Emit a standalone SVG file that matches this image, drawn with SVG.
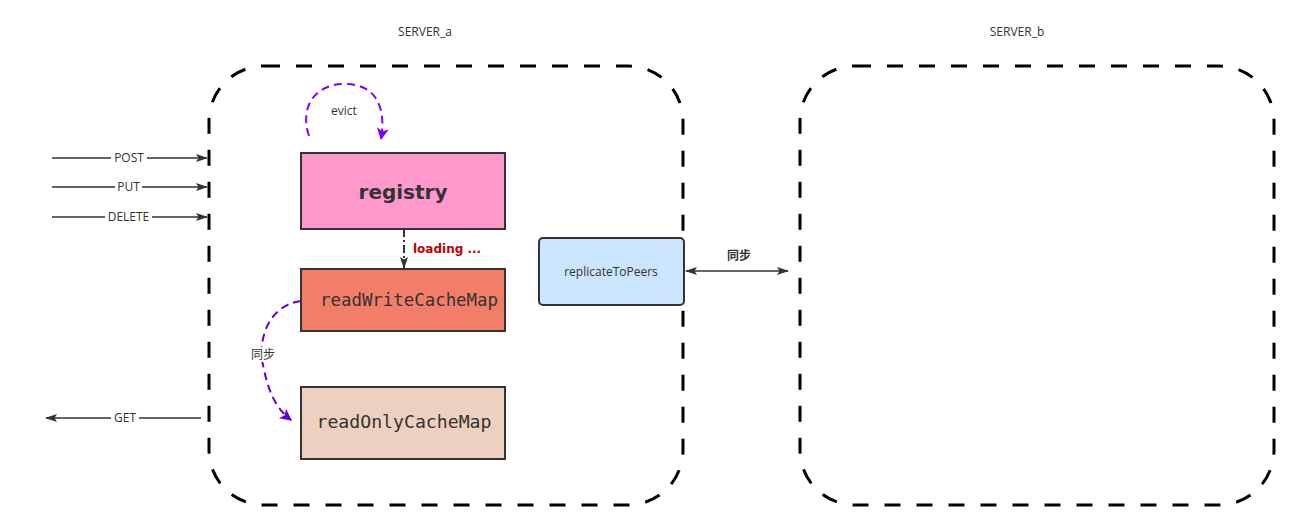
<svg xmlns="http://www.w3.org/2000/svg" width="1307" height="528" viewBox="0 0 1307 528">
<style>
.lbl{font-family:"Open Sans","Noto Sans","Noto Sans CJK SC",sans-serif;font-size:12px;fill:#333;text-anchor:middle}
.bg{fill:#fff}
.srv{fill:none;stroke:#000;stroke-width:3;stroke-dasharray:16 16}
.box{stroke:#333;stroke-width:2}
.mono{font-family:"DejaVu Sans Mono","Liberation Mono",monospace;font-size:17px;fill:#333;text-anchor:middle}
.ln{stroke:#333;stroke-width:1.5;fill:none}
</style>
<defs>
<marker id="ah" viewBox="0 0 12 8" refX="11" refY="4" markerWidth="12" markerHeight="8" markerUnits="userSpaceOnUse" orient="auto-start-reverse">
<path d="M0,0 L12,4 L0,8 L2.5,4 Z" fill="#333"/>
</marker>
<marker id="ahp" viewBox="0 0 10 10" refX="9" refY="5" markerWidth="12" markerHeight="12" markerUnits="userSpaceOnUse" orient="auto">
<path d="M0,0 L10,5 L0,10 L2.5,5 Z" fill="#7F00FF"/>
</marker>
<marker id="ahv" viewBox="0 0 10 10" refX="9" refY="5" markerWidth="12" markerHeight="12" markerUnits="userSpaceOnUse" orient="auto">
<path d="M0,0 L10,5 L0,10 L2.5,5 Z" fill="#6600CC"/>
</marker>
</defs>
<rect width="1307" height="528" fill="#fff"/>
<text class="lbl" x="425" y="36">SERVER_a</text>
<text class="lbl" x="1017" y="36">SERVER_b</text>
<g id="server_a"><rect class="srv" x="209" y="66" width="474" height="439" rx="55"/></g>
<g id="server_b"><rect class="srv" x="800" y="66" width="474" height="439" rx="55"/></g>
<g id="registry">
<rect class="box" x="301" y="153" width="204" height="76" fill="#FF99CC"/>
<text x="403" y="199" text-anchor="middle" style="font-family:'Comic Sans MS','DejaVu Sans',sans-serif;font-weight:bold;font-size:20px;fill:#333">registry</text>
</g>
<g id="readWriteCacheMap">
<rect class="box" x="301" y="269" width="204" height="62" fill="#F27E6A"/>
<text class="mono" x="409" y="306" textLength="178" lengthAdjust="spacingAndGlyphs">readWriteCacheMap</text>
</g>
<g id="readOnlyCacheMap">
<rect class="box" x="301" y="387" width="204" height="72" fill="#EDD0BF"/>
<text class="mono" x="404" y="428" textLength="175" lengthAdjust="spacingAndGlyphs">readOnlyCacheMap</text>
</g>
<g id="replicateToPeers">
<rect class="box" x="539" y="238" width="145" height="67" rx="4" fill="#CCE5FF"/>
<text class="lbl" x="611" y="276">replicateToPeers</text>
</g>
<g id="connectors">
<g>
<line class="ln" x1="52" y1="158" x2="207" y2="158" marker-end="url(#ah)"/>
<rect class="bg" x="111" y="150" width="36" height="16"/>
<text class="lbl" x="129" y="162">POST</text>
</g>
<g>
<line class="ln" x1="52" y1="187" x2="207" y2="187" marker-end="url(#ah)"/>
<rect class="bg" x="115" y="179" width="27" height="16"/>
<text class="lbl" x="128.5" y="191">PUT</text>
</g>
<g>
<line class="ln" x1="52" y1="217" x2="207" y2="217" marker-end="url(#ah)"/>
<rect class="bg" x="105" y="209" width="47" height="16"/>
<text class="lbl" x="128.5" y="221">DELETE</text>
</g>
<g>
<line class="ln" x1="201" y1="418" x2="46" y2="418" marker-end="url(#ah)"/>
<rect class="bg" x="111" y="410" width="28" height="16"/>
<text class="lbl" x="125" y="422">GET</text>
</g>
<g>
<path d="M309,136 C300,110 312,84 345,84 C378,84 386,110 381,139" fill="none" stroke="#7F00FF" stroke-width="2" stroke-dasharray="8 5" marker-end="url(#ahp)"/>
<text class="lbl" x="344" y="115">evict</text>
</g>
<g>
<path d="M404,229 L404,268" fill="none" stroke="#333" stroke-width="2" stroke-dasharray="8 3 2 3" marker-end="url(#ah)"/>
<text x="413" y="253" style="font-family:'DejaVu Sans',sans-serif;font-weight:bold;font-size:12px;fill:#C00000">loading ...</text>
</g>
<g>
<path d="M301,301 C265,306 258,345 263,365 C268,390 275,408 291,420" fill="none" stroke="#6600CC" stroke-width="2" stroke-dasharray="8 5" marker-end="url(#ahv)"/>
<rect class="bg" x="250" y="347" width="26" height="15"/>
<text class="lbl" x="263" y="359">同步</text>
</g>
<g>
<line class="ln" x1="686" y1="271" x2="788" y2="271" stroke-width="2" marker-start="url(#ah)" marker-end="url(#ah)"/>
<text x="739" y="260" text-anchor="middle" style="font-family:'Noto Sans CJK SC',sans-serif;font-weight:bold;font-size:12px;fill:#333">同步</text>
</g>
</g>
</svg>
